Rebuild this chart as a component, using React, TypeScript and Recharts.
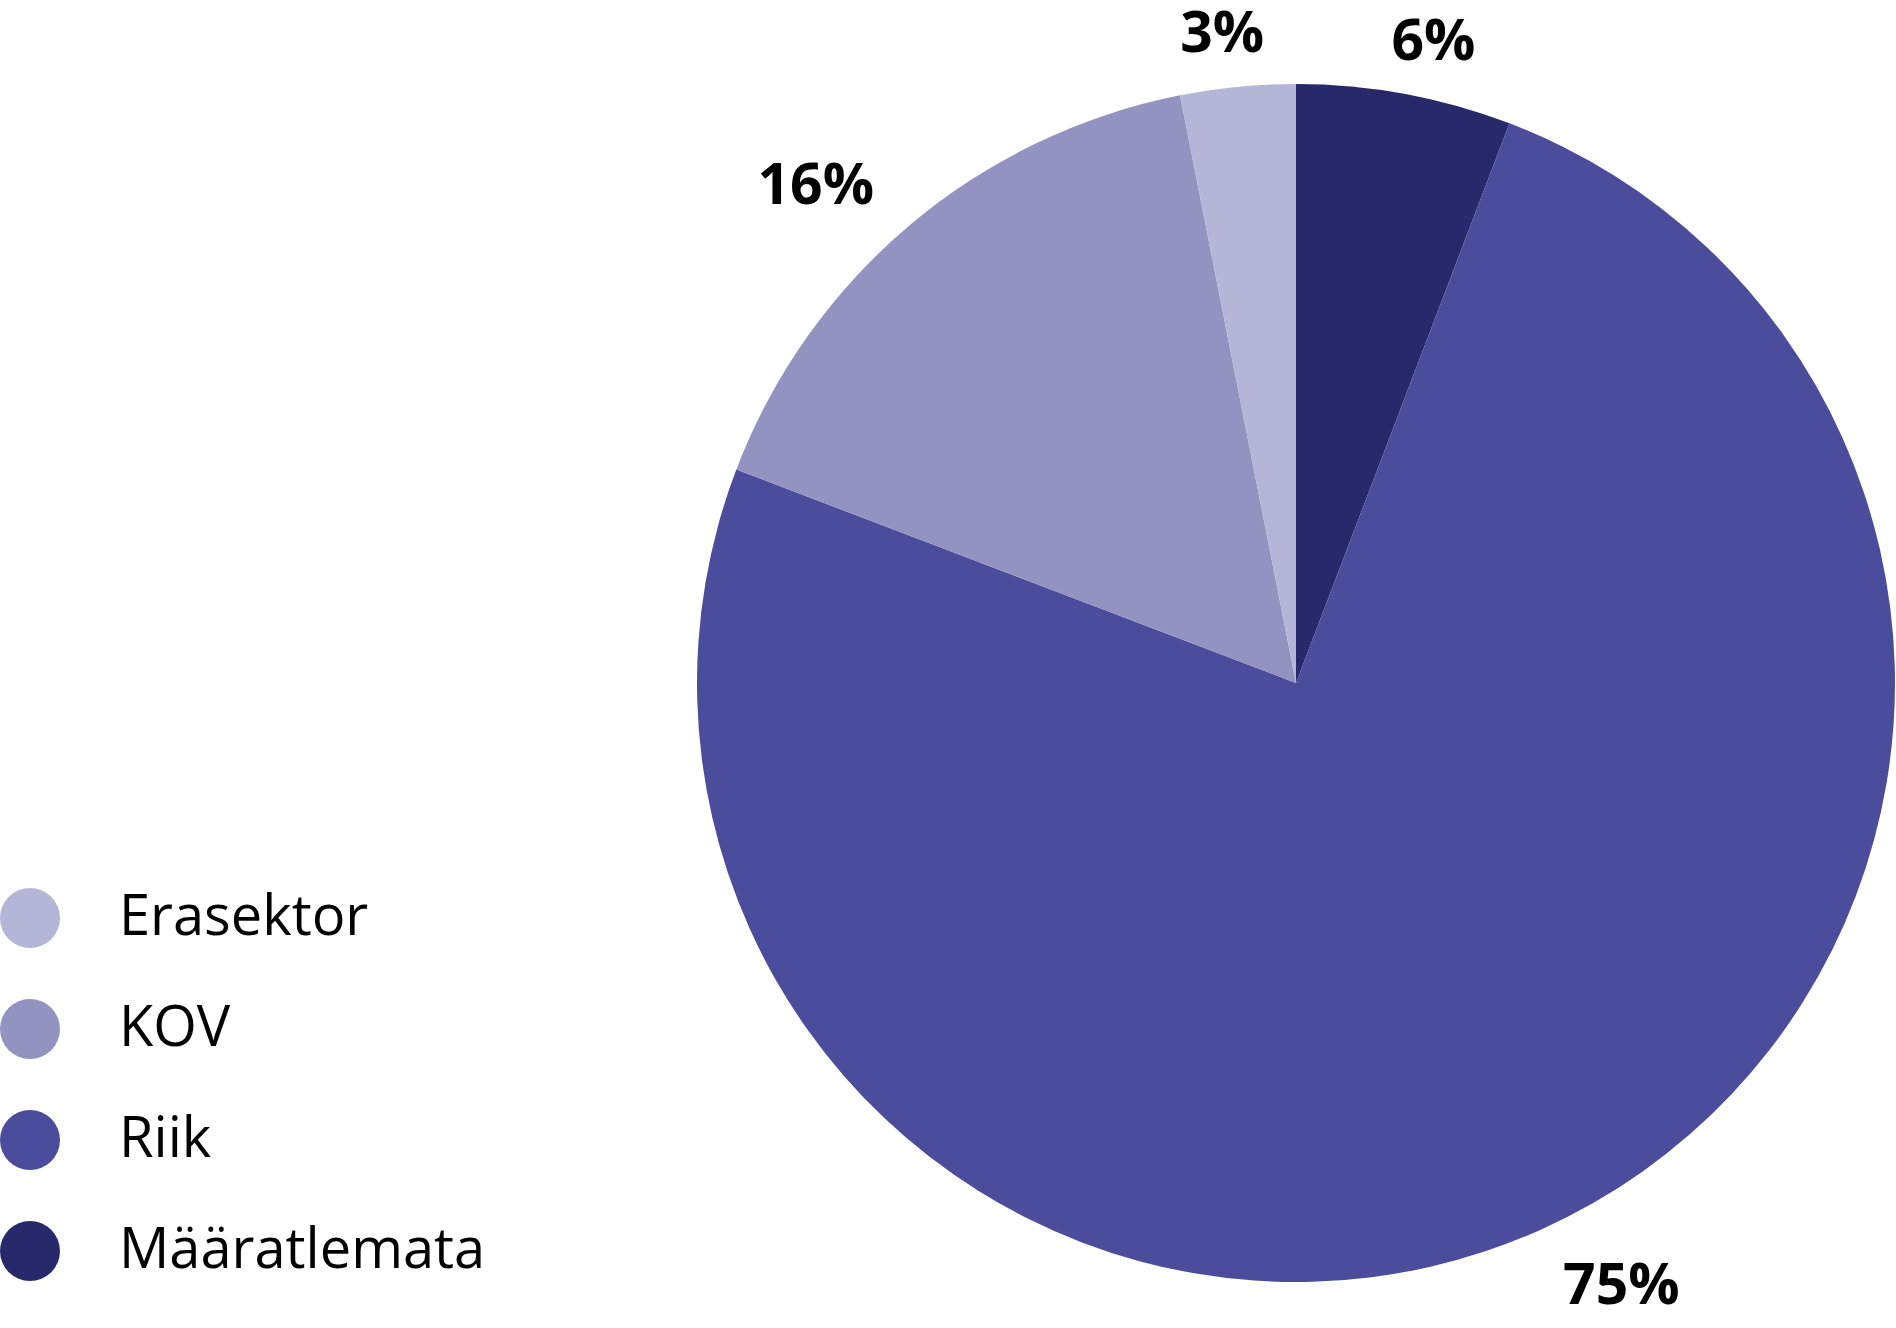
import React from 'react';
import { PieChart, Pie, Cell, Legend } from 'recharts';

// shares in percent, clockwise from 12 o'clock
const sectors = ['Määratlemata', 'Riik', 'KOV', 'Erasektor'];
const shares = [5.8, 75.0, 16.1, 3.1];
const shareLabels = ['6%', '75%', '16%', '3%'];
const colors = ['#28296b', '#4b4d9c', '#9393c2', '#b5b5d7'];

// legend goes top to bottom in reverse order
const legendOrder = ['Erasektor', 'KOV', 'Riik', 'Määratlemata'];

const data = sectors.map((name, i) => ({
  name,
  value: shares[i],
  label: shareLabels[i],
  color: colors[i],
}));

const RADIAN = Math.PI / 180;
const FONT = '"Open Sans", sans-serif';
const LABEL_SIZE = 57;

// labels sit outside the rim; near the top they are centred,
// further round they lean away from the pie
function renderLabel(props: any) {
  const { cx, cy, midAngle, outerRadius, index } = props;
  const text = data[index].label;
  const r = outerRadius + 57;
  const sin = Math.cos(-midAngle * RADIAN);
  const px = cx + r * sin;
  const py = cy + r * Math.sin(-midAngle * RADIAN);
  const w = (text.length - 1) * 0.57 * LABEL_SIZE + 0.87 * LABEL_SIZE;
  const lean = Math.max(-1, Math.min(1, sin * 2.5));
  return (
    <text
      x={px + (w / 2) * lean}
      y={py}
      textAnchor="middle"
      dominantBaseline="central"
      fill="#000"
      fontFamily={FONT}
      fontWeight={700}
      fontSize={LABEL_SIZE}
    >
      {text}
    </text>
  );
}

function LegendContent() {
  return (
    <svg width={520} height={440}>
      {legendOrder.map((name, i) => {
        const item = data.find((d) => d.name === name)!;
        const cy = 50 + i * 111;
        return (
          <g key={name}>
            <circle cx={30} cy={cy} r={30} fill={item.color} />
            <text x={119} y={cy + 17} fontFamily={FONT} fontSize={56} fill="#000">
              {name}
            </text>
          </g>
        );
      })}
    </svg>
  );
}

export default function App() {
  return (
    <div style={{ width: 1896, height: 1328, background: '#fff', position: 'relative' }}>
      <style>{`body { margin: 0; }`}</style>
      <PieChart width={1896} height={1328} margin={{ top: 0, right: 0, bottom: 0, left: 0 }}>
        <Pie
          data={data}
          dataKey="value"
          nameKey="name"
          cx={1296}
          cy={683}
          outerRadius={599}
          startAngle={90}
          endAngle={-270}
          stroke="none"
          labelLine={false}
          label={renderLabel}
          isAnimationActive={false}
        >
          {data.map((d) => (
            <Cell key={d.name} fill={d.color} />
          ))}
        </Pie>
        <Legend
          content={<LegendContent />}
          wrapperStyle={{ position: 'absolute', left: 0, top: 868, width: 520, height: 440 }}
        />
      </PieChart>
    </div>
  );
}
